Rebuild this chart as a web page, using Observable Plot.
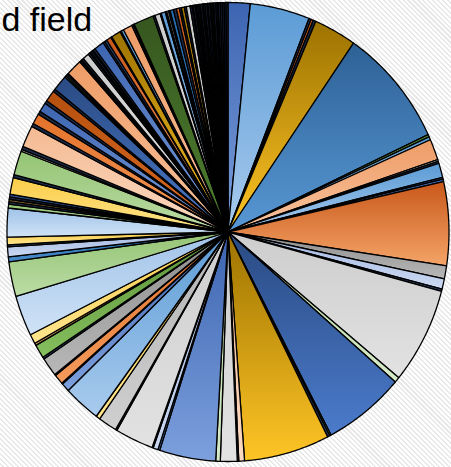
<!DOCTYPE html>
<html>
<head>
<meta charset="utf-8">
<script src="https://cdn.jsdelivr.net/npm/d3@7"></script>
<script src="https://cdn.jsdelivr.net/npm/@observablehq/plot@0.6"></script>
<style>
  html, body { margin: 0; padding: 0; }
  body {
    width: 451px; height: 467px; overflow: hidden;
    background: repeating-linear-gradient(45deg, #ffffff 0 2px, #e8e8e8 2px 3.5px);
  }
</style>
</head>
<body>
<div id="chart"></div>
<script>
// Share of each slice, clockwise from 12 o'clock
const shares = [
  5.8, 15.7, 0.6, 0.6, 0.7, 11.2, 30.3, 0.6, 0.8, 5.3,
  0.5, 0.5, 3.6, 0.5, 0.6, 21.2, 3.3, 2.6, 0.6, 24.4,
  1.4, 21.4, 0.4, 0.6, 22.5, 1.5, 0.4, 4.4, 1.2, 14.8,
  0.5, 1.3, 0.3, 10.1, 0.4, 4.9, 1.1, 9.7, 2.2, 0.3,
  2.5, 0.3, 4.8, 0.5, 3.5, 0.6, 2.4, 10.3, 8.8, 1.3,
  2.5, 0.5, 1.9, 7.3, 1.0, 0.6, 0.6, 0.6, 0.7, 4.2,
  0.8, 6.1, 0.5, 0.8, 5.5, 0.8, 2.7, 0.8, 2.4, 0.8,
  2.9, 0.7, 4.0, 0.4, 0.4, 0.4, 4.2, 0.4, 0.3, 0.5,
  1.7, 0.5, 0.3, 0.5, 0.3, 0.6, 2.6, 0.5, 0.6, 1.3,
  0.3, 2.5, 0.3, 0.7, 2.4, 0.4, 0.3, 5.3, 0.5, 1.4,
  0.3, 1.1, 0.4, 0.5, 0.4, 0.9, 0.8, 0.8, 0.5, 0.8,
  0.5, 1.0,
  0.5, 0.3, 0.5, 0.3, 0.4, 0.4, 0.3, 0.5, 0.3, 0.4,
  0.5, 0.3, 0.5, 0.3, 0.4, 0.3, 0.5, 0.4, 0.3, 0.5,
  0.5, 0.5, 0.5, 0.5
];

// Fill tone of each slice, same order
const tones = [
  "blue", "blueLt", "dark", "orange", "dark", "gold", "steel", "green", "blueLt", "peach",
  "grayLt", "dark", "blueLt", "navy", "blue", "orange", "gray", "lavender", "dark", "grayLt",
  "greenPale", "navy", "green", "dark", "gold", "peachLt", "dark", "grayLt", "greenPale", "blue",
  "navy", "lavender", "dark", "grayLt", "dark", "graySoft", "yellowLt", "blueLt", "blue", "dark",
  "orangeMd", "dark", "gray", "dark", "green", "brown", "yellowLt", "skyLt", "greenLt", "blueMd",
  "lavender", "dark", "yellowLt", "skyLt", "greenLt", "dark", "brown", "dark", "navy", "yellowLt",
  "dark", "greenLt", "gray", "dark", "peachLt", "dark", "orangeMd", "dark", "blue", "dark",
  "orangeDk", "dark", "navy", "green", "grayLt", "dark", "peach", "dark", "green", "dark",
  "grayLt", "dark", "olive", "dark", "gray", "dark", "blue", "dark", "navy", "orange",
  "dark", "gold", "dark", "blueLt", "peach", "gray", "dark", "greenDk", "dark", "grayLt",
  "dark", "blueLt", "dark", "gray", "dark", "blueMd", "dark", "orange", "dark", "gold",
  "dark", "grayLt",
  "dark", "gray", "dark", "olive", "dark", "dark", "grayLt", "dark", "olive", "dark",
  "dark", "olive", "dark", "gray", "dark", "olive", "dark", "dark", "gray", "dark",
  "dark", "dark", "dark", "dark"
];

// Vertical gradient per tone: [top, bottom]
const palette = {
  blue:      ["#3c64b0", "#7da0dd"],
  blueLt:    ["#5b9bd5", "#a9cbee"],
  blueMd:    ["#2569a8", "#4a8ccc"],
  steel:     ["#2d6196", "#5898d4"],
  navy:      ["#2a4a82", "#4b7bcb"],
  lavender:  ["#a2b7e2", "#cbd8f1"],
  skyLt:     ["#a0c2e8", "#d0e3f6"],
  gold:      ["#9c7200", "#ffc526"],
  yellowLt:  ["#fbcd48", "#ffe58e"],
  orange:    ["#c9581a", "#f4a468"],
  orangeMd:  ["#e3722a", "#f39a5c"],
  orangeDk:  ["#b5500f", "#dc6c24"],
  peach:     ["#ee9c66", "#f8c4a0"],
  peachLt:   ["#f4ba92", "#fbd9c2"],
  gray:      ["#8c8c8c", "#b8b8b8"],
  graySoft:  ["#b2b2b2", "#cfcfcf"],
  grayLt:    ["#cdcdcd", "#e2e2e2"],
  green:     ["#5a9236", "#86bf5e"],
  greenLt:   ["#94c474", "#bcdca6"],
  greenPale: ["#b5d7a0", "#d6ebc8"],
  greenDk:   ["#36561f", "#4f8030"],
  olive:     ["#6b6a2a", "#9a9040"],
  brown:     ["#8a6a30", "#c09050"],
  dark:      ["#1d2b48", "#2b3e62"]
};

const title = "d field";

// Outline of every slice as a closed polygon on the unit circle
const arcs = d3.pie().sort(null).value(d => d)(shares);
const outline = [];
arcs.forEach((a, i) => {
  const fill = `url(#tone-${tones[i]})`;
  const n = Math.max(2, Math.ceil((a.endAngle - a.startAngle) / (Math.PI / 360)));
  outline.push({slice: i, x: 0, y: 0, fill});
  for (let k = 0; k <= n; ++k) {
    const t = a.startAngle + (a.endAngle - a.startAngle) * k / n;
    outline.push({slice: i, x: Math.sin(t), y: Math.cos(t), fill});
  }
  outline.push({slice: i, x: 0, y: 0, fill});
});

const chart = Plot.plot({
  width: 451,
  height: 467,
  margin: 0,
  x: {domain: [-1, 1], range: [6.5, 448.5], axis: null},
  y: {domain: [-1, 1], range: [461, 2], axis: null},
  color: {type: "identity"},
  style: {background: "transparent", overflow: "visible"},
  marks: [
    Plot.line(outline, {
      x: "x", y: "y", z: "slice", fill: "fill",
      stroke: "#000", strokeWidth: 1.3, strokeLinejoin: "round", curve: "linear"
    }),
    Plot.text([title], {
      frameAnchor: "top-left", textAnchor: "start", lineAnchor: "top",
      dx: 1, dy: 6, text: d => d,
      fontSize: 34, fill: "#000",
      fontFamily: "Liberation Sans, Arial, sans-serif"
    })
  ]
});

// Gradient definitions used by the slice fills
const ns = "http://www.w3.org/2000/svg";
const defs = document.createElementNS(ns, "defs");
for (const [key, [top, bottom]] of Object.entries(palette)) {
  const g = document.createElementNS(ns, "linearGradient");
  g.setAttribute("id", `tone-${key}`);
  g.setAttribute("x1", "0"); g.setAttribute("y1", "0");
  g.setAttribute("x2", "0"); g.setAttribute("y2", "1");
  [[0, top], [1, bottom]].forEach(([o, c]) => {
    const s = document.createElementNS(ns, "stop");
    s.setAttribute("offset", o);
    s.setAttribute("stop-color", c);
    g.appendChild(s);
  });
  defs.appendChild(g);
}
chart.insertBefore(defs, chart.firstChild);

document.getElementById("chart").appendChild(chart);
</script>
</body>
</html>
